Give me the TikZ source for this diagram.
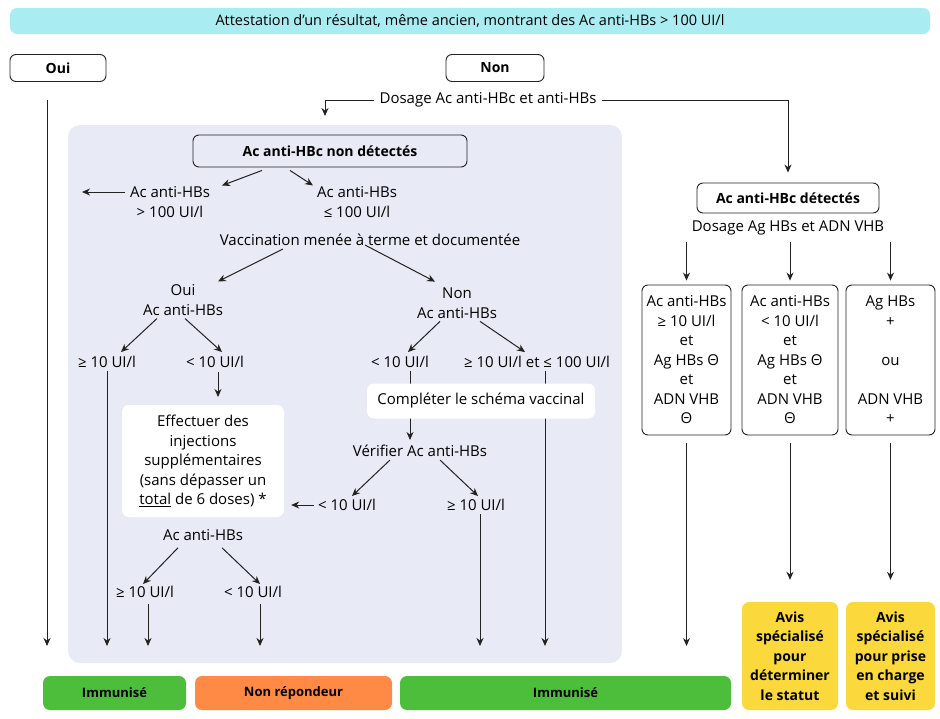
\documentclass[tikz,border=0pt]{standalone}
\usepackage{fontspec}
\setmainfont{Open Sans}
\usetikzlibrary{arrows.meta,positioning,calc}

\definecolor{bannercyan}{HTML}{A9EDF2}
\definecolor{panelgray}{HTML}{E8EAF5}
\definecolor{immgreen}{HTML}{4DBE3C}
\definecolor{nrorange}{HTML}{FF8A45}
\definecolor{avisyellow}{HTML}{FBD93C}
\definecolor{linegray}{HTML}{222222}

\tikzset{
  lbl/.style={font=\fontsize{15}{19.5}\selectfont, align=center, inner sep=1pt, text=black},
  boxed/.style={lbl, draw=linegray, rounded corners=6pt, line width=0.9pt},
  titlebox/.style={boxed, font=\fontsize{14}{17}\selectfont\bfseries},
  whitebox/.style={lbl, fill=white, rounded corners=7pt},
  result/.style={lbl, font=\fontsize{14}{19.5}\selectfont\bfseries, rounded corners=7pt},
  arr/.style={-{Stealth[length=8pt,width=7pt]}, line width=1pt, draw=linegray},
}

\begin{document}
\begin{tikzpicture}[x=1pt,y=-1pt]
\useasboundingbox (0,0) rectangle (940,718);

% Background panel
\node[fill=panelgray, rounded corners=12pt, minimum width=554pt, minimum height=538pt] (panel) at (345,394) {};

% Top question
\node[lbl, font=\fontsize{14.5}{17}\selectfont, fill=bannercyan, rounded corners=7pt, minimum width=920pt, minimum height=26pt] (banner) at (470,21)
  {Attestation d’un résultat, même ancien, montrant des Ac anti-HBs > 100 UI/l};
\node[titlebox, minimum width=96pt, minimum height=27pt] (oui) at (58,68) {Oui};
\node[titlebox, minimum width=98pt, minimum height=27pt] (non) at (495,68) {Non};
\node[lbl] (dosage) at (488,100) {Dosage Ac anti-HBc et anti-HBs};

% Left branch (anti-HBc non detected)
\node[titlebox, minimum width=274pt, minimum height=32pt] (nondet) at (330,151) {Ac anti-HBc non détectés};
\node[lbl] (sup100) at (170,202) {Ac anti-HBs\\> 100 UI/l};
\node[lbl] (inf100) at (357,202) {Ac anti-HBs\\≤ 100 UI/l};
\node[lbl] (vacc) at (370,240) {Vaccination menée à terme et documentée};
\node[lbl] (ouiab) at (183,300) {Oui\\Ac anti-HBs};
\node[lbl] (nonab) at (457,303) {Non\\Ac anti-HBs};
\node[lbl] (oge10) at (107,362) {≥ 10 UI/l};
\node[lbl] (olt10) at (215,362) {< 10 UI/l};
\node[lbl] (nlt10) at (400,362) {< 10 UI/l};
\node[lbl] (nmid) at (537,362) {≥ 10 UI/l et ≤ 100 UI/l};
\node[lbl] (verif) at (420,451) {Vérifier Ac anti-HBs};
\node[lbl] (vlt10) at (347,505) {< 10 UI/l};
\node[lbl] (vge10) at (476,505) {≥ 10 UI/l};
\node[lbl] (acab) at (203,535) {Ac anti-HBs};
\node[lbl] (ige10) at (145,592) {≥ 10 UI/l};
\node[lbl] (ilt10) at (253,592) {< 10 UI/l};

% Right branch (anti-HBc detected)
\node[titlebox, minimum width=182pt, minimum height=30pt] (det) at (788,198) {Ac anti-HBc détectés};
\node[lbl] (dosage2) at (788,228) {Dosage Ag HBs et ADN VHB};
\node[boxed, minimum width=89pt, minimum height=150pt] (r1) at (686.5,360) {Ac anti-HBs\\≥ 10 UI/l\\et\\Ag HBs Θ\\et\\ADN VHB\\Θ};
\node[boxed, minimum width=96pt, minimum height=150pt] (r2) at (790,360) {Ac anti-HBs\\< 10 UI/l\\et\\Ag HBs Θ\\et\\ADN VHB\\Θ};
\node[boxed, minimum width=89pt, minimum height=150pt] (r3) at (890.5,360) {Ag HBs\\+\\[19.5pt]ou\\[19.5pt]ADN VHB\\+};

% Outcomes
\node[result, font=\fontsize{13}{16}\selectfont\bfseries, fill=immgreen, minimum width=143pt, minimum height=34pt] (imm1) at (114.5,693) {Immunisé};
\node[result, font=\fontsize{13}{16}\selectfont\bfseries, fill=nrorange, minimum width=197pt, minimum height=34pt] (nonrep) at (293.5,693) {Non répondeur};
\node[result, font=\fontsize{13}{16}\selectfont\bfseries, fill=immgreen, minimum width=331pt, minimum height=34pt] (imm2) at (565.5,693) {Immunisé};
\node[result, fill=avisyellow, minimum width=96pt, minimum height=108pt] (avis1) at (790,656) {Avis\\spécialisé\\pour\\déterminer\\le statut};
\node[result, fill=avisyellow, minimum width=89pt, minimum height=108pt] (avis2) at (890.5,656) {Avis\\spécialisé\\pour prise\\en charge\\et suivi};

% Free ends
\coordinate (ouitop) at (47,100);
\coordinate (ouiend) at (47,646);
\coordinate (dosleft) at (325,116);
\coordinate (supleft) at (82,192);
\coordinate (midcol) at (545,646);
\coordinate (vgecol) at (480,646);
\coordinate (igecol) at (148,646);
\coordinate (iltcol) at (260,646);

% Connectors
\draw[arr] (ouitop) -- (ouiend);
\draw[arr, shorten <=4pt] (dosage.west) -| (dosleft);
\draw[arr, shorten <=4pt, shorten >=10pt] (dosage.east) -| (det.north);
\draw[arr, shorten <=4pt] ($(sup100.west)+(0,-10)$) -- (supleft);
\draw[arr] ($(nondet.south)+(-68,3)$) -- ($(sup100.north)+(52,0)$);
\draw[arr] ($(nondet.south)+(-40,3)$) -- ($(inf100.north)+(-44,0)$);
\draw[arr] ($(vacc.south)+(-87,2)$) -- ($(ouiab.north)+(35,-2)$);
\draw[arr] ($(vacc.south)+(-5,-2)$) -- ($(nonab.north)+(-22,-5)$);
\draw[arr] ($(ouiab.south)+(-26,2)$) -- ($(oge10.north)+(14,-3)$);
\draw[arr] ($(ouiab.south)+(2,2)$) -- ($(olt10.north)+(7,-3)$);
\draw[arr] ($(oge10.south)+(0,2)$) -- (oge10.south |- ouiend);
\draw[arr] ($(olt10.south)+(3,3)$) -- ($(olt10.south)+(3,28)$);
\draw[arr] ($(nonab.south)+(-17,2)$) -- ($(nlt10.north)+(8,-3)$);
\draw[arr] ($(nonab.south)+(23,2)$) -- ($(nmid.north)+(-12,-3)$);
\draw[arr] ($(nlt10.south)+(10,2)$) -- ($(verif.north)+(-10,-4)$);
\draw[arr] (nmid.south -| midcol) ++(0,2) -- (midcol);
\draw[arr] ($(verif.south)+(-30,2)$) -- ($(vlt10.north)+(5,-2)$);
\draw[arr] ($(verif.south)+(20,2)$) -- ($(vge10.north)+(2,-2)$);
\draw[arr] (vge10.south -| vgecol) ++(0,2) -- (vgecol);
\draw[arr] ($(acab.south)+(-25,6)$) -- ($(ige10.north)+(-2,-1)$);
\draw[arr] ($(acab.south)+(19,6)$) -- ($(ilt10.north)+(7,-1)$);
\draw[arr] (ige10.south -| igecol) ++(0,5) -- (igecol);
\draw[arr] (ilt10.south -| iltcol) ++(0,5) -- (iltcol);
\foreach \r in {r1,r2,r3}
  \draw[arr] (dosage2.south -| \r.north) ++(0,6) -- ($(\r.north)+(0,-4)$);
\draw[arr] ($(r1.south)+(0,8)$) -- (r1.south |- ouiend);
\draw[arr] ($(r2.south)+(0,8)$) -- ($(avis1.north)+(0,-22)$);
\draw[arr] ($(r3.south)+(0,8)$) -- ($(avis2.north)+(0,-22)$);

% White boxes drawn over the lines
\node[whitebox, minimum width=228pt, minimum height=35pt] (completer) at (481,401) {Compléter le schéma vaccinal};
\node[whitebox, minimum width=162pt, minimum height=112pt] (inject) at (203,461)
  {Effectuer des\\injections\\supplémentaires\\(sans dépasser un\\\underline{total} de 6 doses) *};
\draw[arr, shorten <=3pt, shorten >=7pt] (vlt10.west) -- (vlt10.west -| inject.east);
\end{tikzpicture}
\end{document}
